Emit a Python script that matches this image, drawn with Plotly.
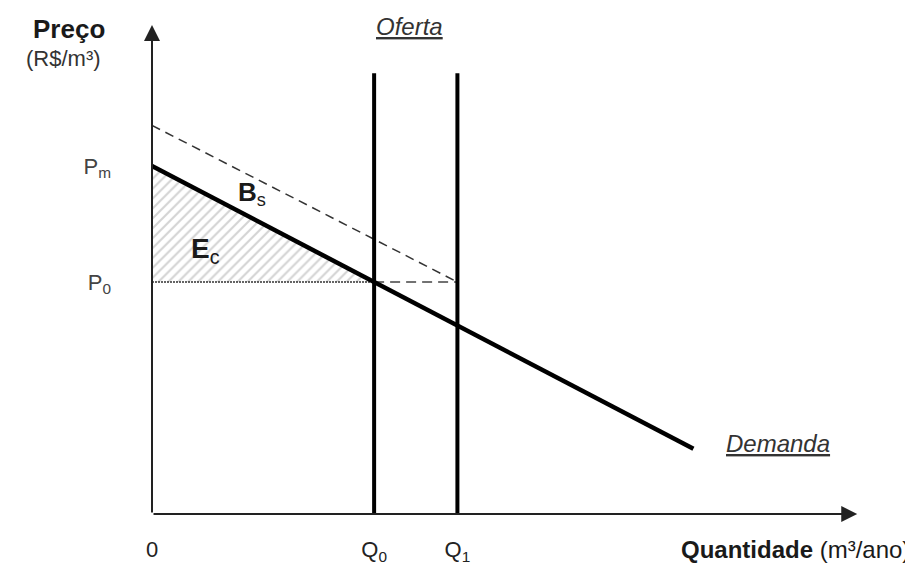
import plotly.graph_objects as go

# ---- data (model units) ----
q_ticks = [0, 4.0, 5.5]
q_tick_labels = ["0", "Q<sub>0</sub>", "Q<sub>1</sub>"]
p_ticks = [4.0, 6.0]
p_tick_labels = ["P<sub>0</sub>", "P<sub>m</sub>"]

demand_q = [0, 9.75]
demand_p = [6.0, 1.125]

shifted_q = [0, 5.5]
shifted_p = [6.7, 4.0]

offer0_q = [4.0, 4.0]
offer1_q = [5.5, 5.5]
offer_p = [0, 7.6]

p0_left_q = [0, 4.0]
p0_right_q = [4.0, 5.5]
p0_line_p = [4.0, 4.0]

surplus_q = [0, 0, 4.0, 0]
surplus_p = [6.0, 4.0, 4.0, 6.0]

x_max = 12.75
y_max = 8.5

FONT = "Liberation Sans, Arial, sans-serif"
INK = "#1a1a1a"

fig = go.Figure()

# hatched consumer surplus
fig.add_trace(go.Scatter(
    x=surplus_q, y=surplus_p, mode="lines", fill="toself",
    line=dict(width=0), fillcolor="rgba(0,0,0,0)",
    fillpattern=dict(shape="/", fgcolor="#a8a8a8", bgcolor="white", size=7, solidity=0.3),
    hoverinfo="skip", showlegend=False))

# P0 horizontal lines
fig.add_trace(go.Scatter(x=p0_left_q, y=p0_line_p, mode="lines",
                         line=dict(color="#333", width=1.5, dash="2px,1px"), showlegend=False))
fig.add_trace(go.Scatter(x=p0_right_q, y=p0_line_p, mode="lines",
                         line=dict(color="#444", width=1.5, dash="10px,6px"), showlegend=False))

# shifted (dashed) line
fig.add_trace(go.Scatter(x=shifted_q, y=shifted_p, mode="lines",
                         line=dict(color="#333", width=1.5, dash="9px,6px"), showlegend=False))

# supply lines
fig.add_trace(go.Scatter(x=offer0_q, y=offer_p, mode="lines",
                         line=dict(color="black", width=4), showlegend=False))
fig.add_trace(go.Scatter(x=offer1_q, y=offer_p, mode="lines",
                         line=dict(color="black", width=4), showlegend=False))

# demand
fig.add_trace(go.Scatter(x=demand_q, y=demand_p, mode="lines",
                         line=dict(color="black", width=4.5), showlegend=False))


def px(v):
    return v / x_max


def py(v):
    return v / y_max


annotations = [
    # axes with arrowheads
    dict(x=x_max - 0.05, y=0, ax=0, ay=0, xref="x", yref="y", axref="x", ayref="y",
         text="", showarrow=True, arrowhead=2, arrowsize=1.6, arrowwidth=2, arrowcolor="#222", standoff=0),
    dict(x=0, y=y_max - 0.07, ax=0, ay=0, xref="x", yref="y", axref="x", ayref="y",
         text="", showarrow=True, arrowhead=2, arrowsize=1.6, arrowwidth=2, arrowcolor="#222", standoff=0),
    dict(x=px(-1.5), y=py(8.36), xref="paper", yref="paper", xanchor="center", yanchor="middle",
         text="<b>Preço</b>", showarrow=False, font=dict(size=26, color=INK)),
    dict(x=px(-1.59), y=py(7.86), xref="paper", yref="paper", xanchor="center", yanchor="middle",
         text="(R$/m³)", showarrow=False, font=dict(size=22, color="#333")),
    dict(x=4.63, y=8.41, text="<i><u>Oferta</u></i>", showarrow=False, font=dict(size=24, color="#333")),
    dict(x=11.28, y=1.22, text="<i><u>Demanda</u></i>", showarrow=False, font=dict(size=24, color="#333")),
    dict(x=1.8, y=5.52, text="<b>B</b><sub>s</sub>", showarrow=False, font=dict(size=26, color=INK)),
    dict(x=0.97, y=4.55, text="<b>E</b><sub>c</sub>", showarrow=False, font=dict(size=28, color=INK)),
    dict(x=px(13.68), y=py(-0.62), xref="paper", yref="paper", xanchor="right", yanchor="middle",
         text="<b>Quantidade</b> (m³/ano)", showarrow=False, font=dict(size=24, color=INK)),
]

fig.update_layout(
    width=913, height=571,
    margin=dict(l=144, r=61, t=13, b=65),
    paper_bgcolor="white", plot_bgcolor="white",
    font=dict(family=FONT, color="#333"),
    showlegend=False,
    annotations=annotations,
    xaxis=dict(range=[0, x_max], showgrid=False, zeroline=False, showline=False,
               tickvals=q_ticks, ticktext=q_tick_labels, ticks="",
               tickfont=dict(size=22, color="#222"), ticklabelstandoff=20),
    yaxis=dict(range=[0, y_max], showgrid=False, zeroline=False, showline=False,
               tickvals=p_ticks, ticktext=p_tick_labels, ticks="",
               tickfont=dict(size=22, color="#444"), ticklabelstandoff=40),
)

fig.write_html("out.html")
